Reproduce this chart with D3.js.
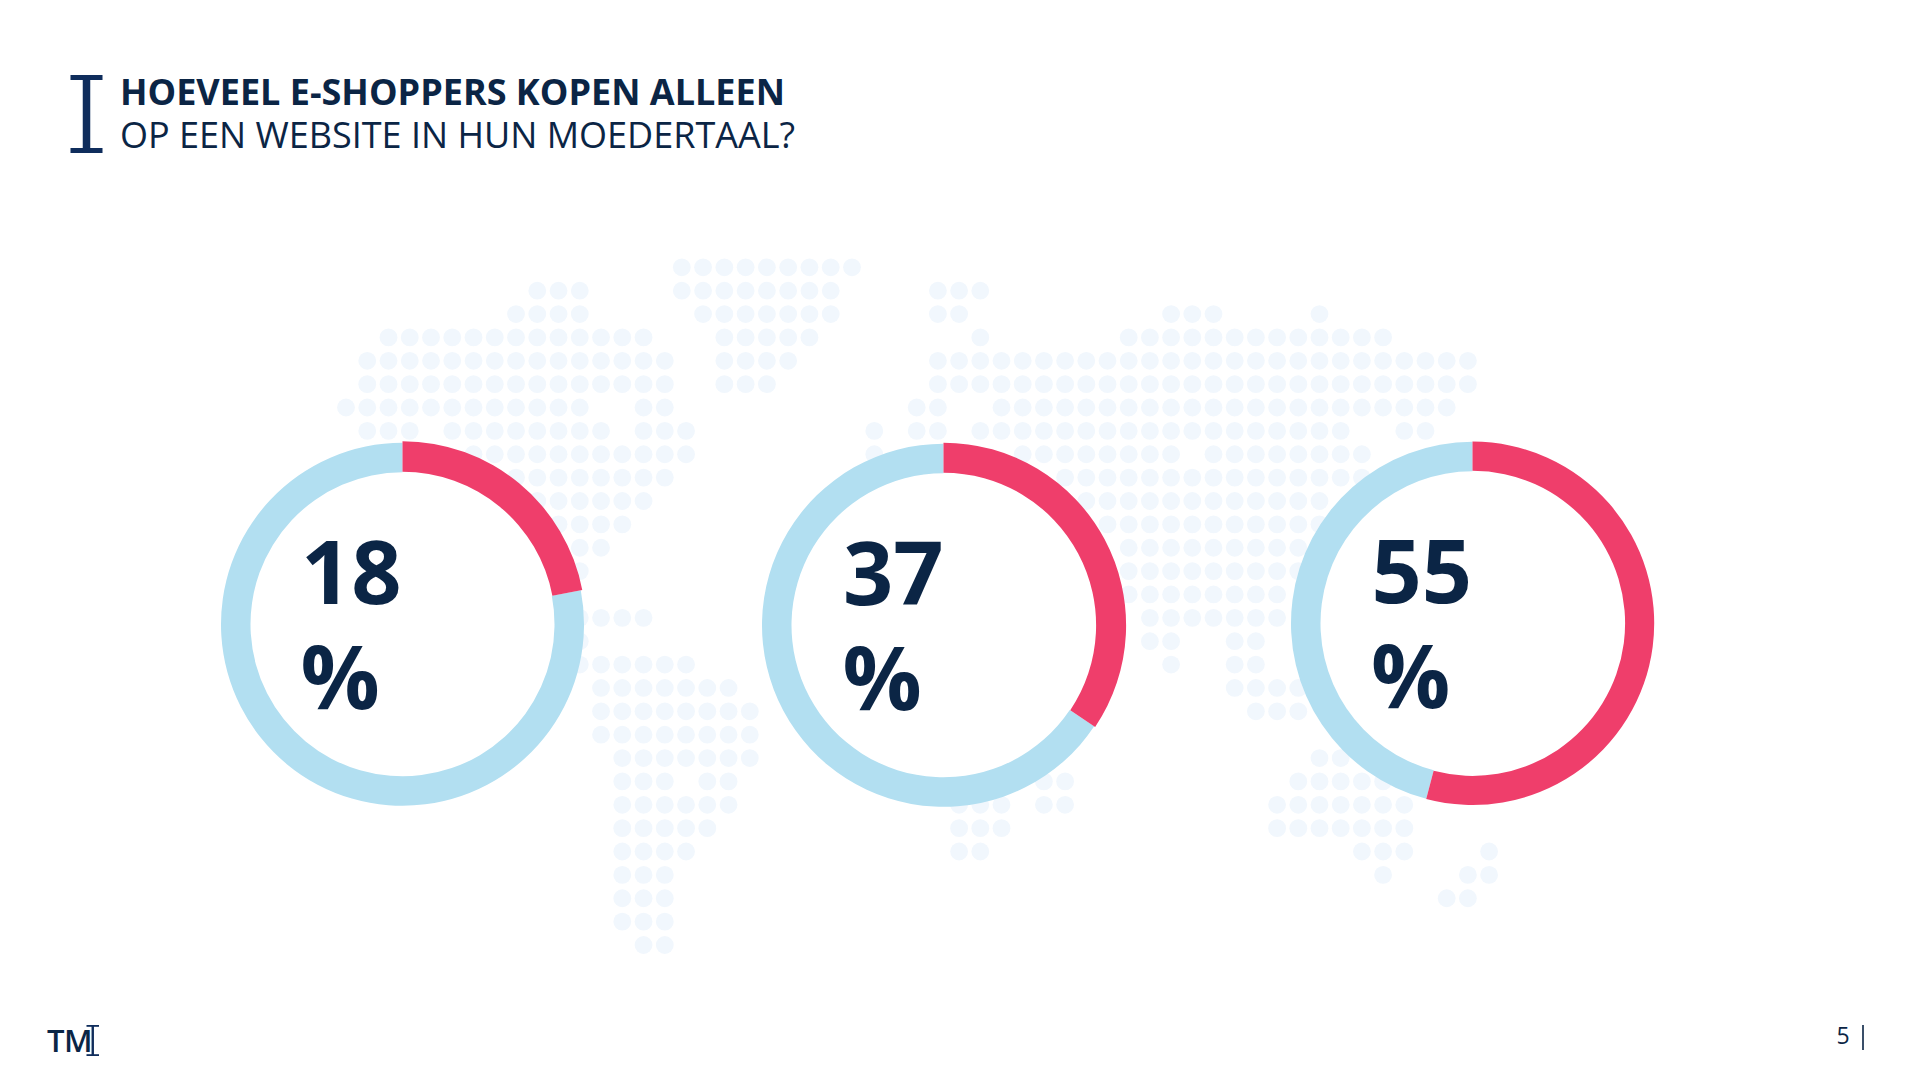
<!DOCTYPE html>
<html lang="nl">
<head>
<meta charset="utf-8">
<title>Hoeveel e-shoppers kopen alleen op een website in hun moedertaal?</title>
<script src="https://cdn.jsdelivr.net/npm/d3@7"></script>
<style>
html,body{margin:0;padding:0;background:#fff;overflow:hidden}
svg{display:block}
text{font-family:"Open Sans",sans-serif;fill:#0b2545}
</style>
</head>
<body>
<svg id="chart" width="1920" height="1080"></svg>
<script>
// Chart values
const titleBold = "HOEVEEL E-SHOPPERS KOPEN ALLEEN";
const titleRegular = "OP EEN WEBSITE IN HUN MOEDERTAAL?";
const valueLabels = ["18", "37", "55"];
const unitLabel = "%";
const drawnShares = [22, 34.4, 54.1];
const pageNumber = "5";
const brandText = "TM";

// Dotted world map as runs: [row, first column, last column]
const americasRuns = [
  [1,9,11],[2,8,11],[3,2,14],[4,1,15],[5,1,15],[6,0,11],[6,14,15],[7,1,3],[7,5,12],[7,14,16],
  [8,6,16],[9,6,15],[10,8,14],[11,9,13],[12,10,12],[13,10,11],
  [15,11,14],[16,11,11],[17,11,16],[18,12,18],[19,12,19],[20,12,19],[21,13,19],
  [22,13,15],[22,17,18],[23,13,18],[24,13,17],[25,13,16],[26,13,15],[27,13,15],[28,13,15],[29,14,15]
];
const greenlandRuns = [
  [0,0,8],[1,0,7],[2,1,7],[3,2,6],[4,2,5],[5,2,4]
];
const eurasiaRuns = [
  [1,3,5],[2,3,4],[2,14,16],[2,21,21],[3,5,5],[3,12,24],[4,3,28],[5,3,28],
  [6,2,3],[6,6,27],[7,0,0],[7,2,3],[7,5,22],[7,25,26],
  [8,0,0],[8,7,14],[8,16,23],[9,9,23],[10,10,21],[11,11,21],[12,12,20],[13,12,20],[14,12,19],[15,13,19],
  [16,13,14],[16,17,18],[17,14,14],[17,17,18],[18,17,20],[19,18,20],
  [21,21,22],[22,8,9],[22,20,24],[23,4,6],[23,8,9],[23,19,25],[24,4,6],[24,19,25],[25,4,5],[25,23,25],[25,29,29],
  [26,24,24],[26,28,29],[27,27,28]
];

const svg = d3.select("#chart");
const ink = "#0b2545";

// Map scales
const rowY = d3.scaleLinear().domain([0, 29]).range([267.3, 945]);
const colAmericas = d3.scaleLinear().domain([0, 19]).range([346, 749.8]);
const colGreenland = d3.scaleLinear().domain([0, 8]).range([681.8, 852]);
const colEurasia = d3.scaleLinear().domain([0, 29]).range([874.3, 1489.1]);

const expand = (runs, xScale) => runs.flatMap(([r, a, b]) =>
  d3.range(a, b + 1).map(c => ({x: xScale(c), y: rowY(r)})));

svg.append("g").selectAll("circle")
  .data([
    ...expand(americasRuns, colAmericas),
    ...expand(greenlandRuns, colGreenland),
    ...expand(eurasiaRuns, colEurasia)
  ])
  .join("circle")
  .attr("cx", d => d.x).attr("cy", d => d.y).attr("r", 8.9)
  .attr("fill", "#f1f7fd");

// Rings
const ringX = d3.scaleOrdinal().domain(valueLabels).range([402.5, 943.5, 1472.5]);
const ringY = d3.scaleOrdinal().domain(valueLabels).range([624.3, 625.3, 623.3]);
const redOuter = d3.scaleOrdinal().domain(valueLabels).range([183, 182.6, 181.7]);
const pie = d3.pie().sort(null).value(d => d);
const arcShape = d3.arc();

const rings = svg.append("g").selectAll("g")
  .data(valueLabels.map((label, i) => ({label, share: drawnShares[i]})))
  .join("g")
  .attr("transform", d => `translate(${ringX(d.label)},${ringY(d.label)})`);

rings.append("circle").attr("r", 153).attr("fill", "#fff");
rings.selectAll("path")
  .data(d => pie([d.share, 100 - d.share]).map(s => ({...s, label: d.label})).reverse())
  .join("path")
  .attr("d", d => arcShape({
    ...d,
    innerRadius: d.index === 0 ? 152.6 : 152,
    outerRadius: d.index === 0 ? redOuter(d.label) : 181.5
  }))
  .attr("fill", d => d.index === 0 ? "#ef3e6b" : "#b2dff1");

const labelDx = d3.scaleOrdinal().domain(valueLabels).range([-101.5, -100.5, -101]);
rings.append("text")
  .attr("x", d => labelDx(d.label)).attr("y", -20.5)
  .attr("font-size", 88).attr("font-weight", 700)
  .text(d => d.label);
rings.append("text")
  .attr("x", d => labelDx(d.label) - 0.5).attr("y", 85)
  .attr("font-size", 88).attr("font-weight", 700)
  .text(unitLabel);

// I-beam mark used by the title and by the footer logo
function beam(x, top, w, h, stem, bar, color) {
  const cx = x + w / 2;
  const g = svg.append("g").attr("fill", color);
  g.append("rect").attr("x", x).attr("y", top).attr("width", w).attr("height", bar);
  g.append("rect").attr("x", x).attr("y", top + h - bar).attr("width", w).attr("height", bar);
  g.append("rect").attr("x", cx - stem / 2).attr("y", top).attr("width", stem).attr("height", h);
}

// Title
beam(70.5, 75, 32, 78, 7.5, 5, "#0f2d5c");
svg.append("text").attr("x", 120).attr("y", 104.8)
  .attr("font-size", 36).attr("font-weight", 700).text(titleBold);
svg.append("text").attr("x", 120).attr("y", 147.8)
  .attr("font-size", 36).attr("font-weight", 400).text(titleRegular);

// Footer
svg.append("text").attr("x", 47).attr("y", 1051.5)
  .attr("font-size", 31).attr("font-weight", 600).attr("letter-spacing", -0.6).text(brandText);
beam(86.5, 1025, 12.5, 31, 2.4, 1.8, "#0f2d5c");
svg.append("text").attr("x", 1836.5).attr("y", 1044)
  .attr("font-size", 23).attr("font-weight", 400).text(pageNumber);
svg.append("rect").attr("x", 1862.2).attr("y", 1025).attr("width", 1.6).attr("height", 25).attr("fill", ink);
</script>
</body>
</html>
